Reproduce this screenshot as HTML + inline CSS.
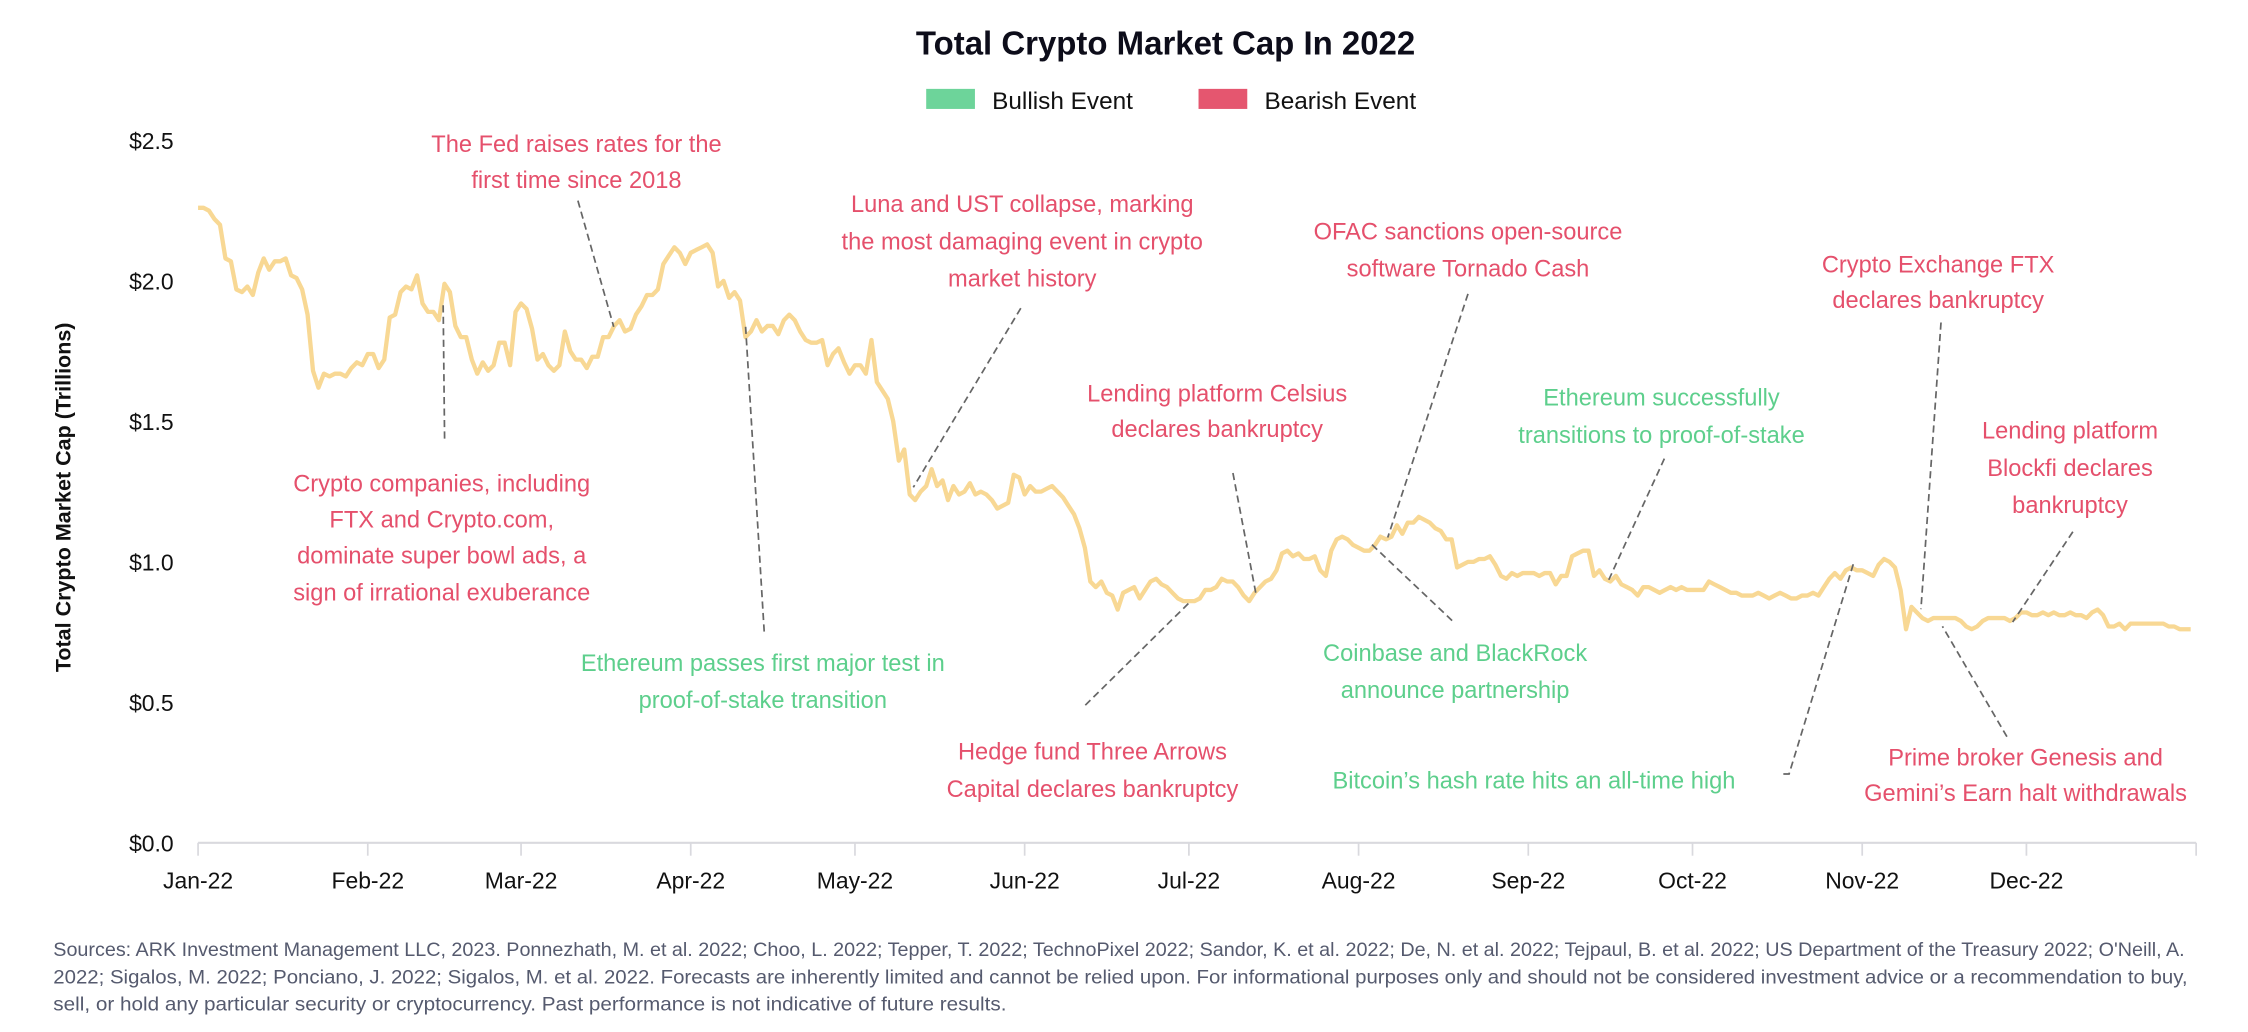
<!DOCTYPE html>
<html><head><meta charset="utf-8"><style>
html,body{margin:0;padding:0;background:#fff;}
svg{display:block;font-family:"Liberation Sans",sans-serif;}
.r{fill:#E5506C;font-size:16.5px;text-anchor:middle;}
.g{fill:#5DCF8C;font-size:16.5px;text-anchor:middle;}
.d{stroke:#666;stroke-width:1.2;stroke-dasharray:5,3;fill:none;}
.yl{font-size:16px;fill:#111;text-anchor:end;}
.xl{font-size:16px;fill:#111;text-anchor:middle;}
.ft{font-size:13.3px;fill:#555a6e;}
</style></head><body>
<svg width="2248" height="1032" viewBox="0 0 1568 720" xmlns="http://www.w3.org/2000/svg">
<text x="813" y="38" text-anchor="middle" font-size="23" font-weight="bold" fill="#0d0d1a">Total Crypto Market Cap In 2022</text>
<rect x="646" y="62" width="34" height="14" fill="#6DD49A"/>
<text x="692" y="76" font-size="17" fill="#111">Bullish Event</text>
<rect x="836" y="62" width="34" height="14" fill="#E5566F"/>
<text x="882" y="76" font-size="17" fill="#111">Bearish Event</text>

<text class="yl" x="121" y="104">$2.5</text>
<text class="yl" x="121" y="202">$2.0</text>
<text class="yl" x="121" y="300">$1.5</text>
<text class="yl" x="121" y="398">$1.0</text>
<text class="yl" x="121" y="496">$0.5</text>
<text class="yl" x="121" y="594">$0.0</text>
<text transform="translate(49,347) rotate(-90)" text-anchor="middle" font-size="15" font-weight="bold" fill="#111">Total Crypto Market Cap (Trillions)</text>

<line x1="138" y1="588" x2="1532" y2="588" stroke="#d9d9de" stroke-width="1.5"/>
<g id="ticks" stroke="#d9d9de" stroke-width="1.2"></g>
<g id="xl"></g>

<path id="series" fill="none" stroke="#F8D894" stroke-width="3" stroke-linejoin="round"/>

<!-- annotations -->
<text class="r" x="402" y="106">The Fed raises rates for the</text>
<text class="r" x="402" y="131">first time since 2018</text>
<path class="d" d="M403 140 L428 228"/>

<text class="r" x="308" y="343">Crypto companies, including</text>
<text class="r" x="308" y="368">FTX and Crypto.com,</text>
<text class="r" x="308" y="393">dominate super bowl ads, a</text>
<text class="r" x="308" y="419">sign of irrational exuberance</text>
<path class="d" d="M309 213 L310 307"/>

<text class="r" x="713" y="148">Luna and UST collapse, marking</text>
<text class="r" x="713" y="174">the most damaging event in crypto</text>
<text class="r" x="713" y="200">market history</text>
<path class="d" d="M712 215 L637 340"/>

<text class="g" x="532" y="468">Ethereum passes first major test in</text>
<text class="g" x="532" y="494">proof-of-stake transition</text>
<path class="d" d="M520 228 L533 441"/>

<text class="r" x="762" y="530">Hedge fund Three Arrows</text>
<text class="r" x="762" y="556">Capital declares bankruptcy</text>
<path class="d" d="M757 492 L830 420"/>

<text class="r" x="849" y="280">Lending platform Celsius</text>
<text class="r" x="849" y="305">declares bankruptcy</text>
<path class="d" d="M860 330 L876 414"/>

<text class="r" x="1024" y="167">OFAC sanctions open-source</text>
<text class="r" x="1024" y="193">software Tornado Cash</text>
<path class="d" d="M1024 205 L968 375"/>

<text class="g" x="1015" y="461">Coinbase and BlackRock</text>
<text class="g" x="1015" y="487">announce partnership</text>
<path class="d" d="M957 380 L1014 434"/>

<text class="g" x="1159" y="283">Ethereum successfully</text>
<text class="g" x="1159" y="309">transitions to proof-of-stake</text>
<path class="d" d="M1161 320 L1122 405"/>

<text class="r" x="1352" y="190">Crypto Exchange FTX</text>
<text class="r" x="1352" y="215">declares bankruptcy</text>
<path class="d" d="M1354 225 L1340 425"/>

<text class="r" x="1444" y="306">Lending platform</text>
<text class="r" x="1444" y="332">Blockfi declares</text>
<text class="r" x="1444" y="358">bankruptcy</text>
<path class="d" d="M1446 371 L1404 434"/>

<text class="g" x="1070" y="550">Bitcoin’s hash rate hits an all-time high</text>
<path class="d" d="M1244 540 L1248 540 L1293 393"/>

<text class="r" x="1413" y="534">Prime broker Genesis and</text>
<text class="r" x="1413" y="559">Gemini’s Earn halt withdrawals</text>
<path class="d" d="M1400 514 L1355 437"/>

<text class="ft" x="37" y="667" textLength="1487" lengthAdjust="spacingAndGlyphs">Sources: ARK Investment Management LLC, 2023. Ponnezhath, M. et al. 2022; Choo, L. 2022; Tepper, T. 2022; TechnoPixel 2022; Sandor, K. et al. 2022; De, N. et al. 2022; Tejpaul, B. et al. 2022; US Department of the Treasury 2022; O'Neill, A.</text>
<text class="ft" x="37" y="686" textLength="1489" lengthAdjust="spacingAndGlyphs">2022; Sigalos, M. 2022; Ponciano, J. 2022; Sigalos, M. et al. 2022. Forecasts are inherently limited and cannot be relied upon. For informational purposes only and should not be considered investment advice or a recommendation to buy,</text>
<text class="ft" x="37" y="705" textLength="665" lengthAdjust="spacingAndGlyphs">sell, or hold any particular security or cryptocurrency. Past performance is not indicative of future results.</text>
</svg>
<script>
var NS="http://www.w3.org/2000/svg";
function X(d){return 138+d*1394/365;}
function Y(v){return 588-v*196;}
var months=[["Jan-22",0],["Feb-22",31],["Mar-22",59],["Apr-22",90],["May-22",120],["Jun-22",151],["Jul-22",181],["Aug-22",212],["Sep-22",243],["Oct-22",273],["Nov-22",304],["Dec-22",334]];
var tg=document.getElementById("ticks"),xg=document.getElementById("xl");
months.concat([["",365]]).forEach(function(m){
 var l=document.createElementNS(NS,"line");l.setAttribute("x1",X(m[1]));l.setAttribute("x2",X(m[1]));l.setAttribute("y1",588);l.setAttribute("y2",597);tg.appendChild(l);
 if(m[0]){var t=document.createElementNS(NS,"text");t.setAttribute("class","xl");t.setAttribute("x",X(m[1]));t.setAttribute("y",620);t.textContent=m[0];xg.appendChild(t);}
});
var v=[2.26,2.26,2.25,2.22,2.20,2.08,2.07,1.97,1.96,1.98,1.95,2.03,2.08,2.04,2.07,2.07,2.08,2.02,2.01,1.97,1.88,1.68,1.62,1.67,1.66,1.67,1.67,1.66,1.69,1.71,1.70,
1.74,1.74,1.69,1.72,1.87,1.88,1.96,1.98,1.97,2.02,1.92,1.89,1.89,1.86,1.99,1.96,1.84,1.80,1.80,1.72,1.67,1.71,1.68,1.70,1.78,1.78,1.70,1.89,
1.92,1.90,1.83,1.72,1.74,1.70,1.68,1.70,1.82,1.75,1.72,1.72,1.69,1.73,1.73,1.80,1.80,1.84,1.86,1.82,1.83,1.88,1.91,1.95,1.95,1.97,2.06,2.09,2.12,2.10,2.06,
2.10,2.11,2.12,2.13,2.10,1.98,2.00,1.94,1.96,1.93,1.80,1.82,1.86,1.82,1.84,1.84,1.81,1.86,1.88,1.86,1.82,1.79,1.78,1.78,1.79,1.70,1.74,1.76,1.71,1.67,
1.70,1.70,1.67,1.79,1.64,1.61,1.58,1.50,1.36,1.40,1.24,1.22,1.25,1.27,1.33,1.27,1.29,1.22,1.27,1.24,1.25,1.28,1.24,1.25,1.24,1.22,1.19,1.20,1.21,1.31,1.30,
1.24,1.27,1.25,1.25,1.26,1.27,1.25,1.23,1.20,1.17,1.12,1.05,0.93,0.91,0.93,0.89,0.88,0.83,0.89,0.90,0.91,0.87,0.90,0.93,0.94,0.92,0.91,0.89,0.87,0.86,
0.86,0.86,0.87,0.90,0.90,0.91,0.94,0.93,0.93,0.91,0.88,0.86,0.89,0.91,0.93,0.94,0.97,1.03,1.04,1.02,1.03,1.01,1.01,1.02,0.97,0.95,1.04,1.08,1.09,1.08,1.06,
1.05,1.04,1.04,1.06,1.09,1.08,1.09,1.13,1.10,1.14,1.14,1.16,1.15,1.14,1.12,1.11,1.08,1.08,0.98,0.99,1.00,1.00,1.01,1.01,1.02,0.99,0.95,0.94,0.96,0.95,0.96,
0.96,0.96,0.95,0.96,0.96,0.92,0.95,0.95,1.02,1.03,1.04,1.04,0.95,0.97,0.94,0.93,0.95,0.92,0.91,0.90,0.88,0.91,0.91,0.90,0.89,0.90,0.91,0.90,0.91,0.90,
0.90,0.90,0.90,0.93,0.92,0.91,0.90,0.89,0.89,0.88,0.88,0.88,0.89,0.88,0.87,0.88,0.89,0.88,0.87,0.87,0.88,0.88,0.89,0.88,0.91,0.94,0.96,0.94,0.97,0.98,0.97,
0.97,0.96,0.95,0.99,1.01,1.00,0.98,0.90,0.76,0.84,0.82,0.80,0.79,0.80,0.80,0.80,0.80,0.80,0.79,0.77,0.76,0.77,0.79,0.80,0.80,0.80,0.80,0.79,0.80,0.82,
0.82,0.81,0.81,0.82,0.81,0.82,0.81,0.81,0.82,0.81,0.81,0.80,0.82,0.83,0.81,0.77,0.77,0.78,0.76,0.78,0.78,0.78,0.78,0.78,0.78,0.78,0.77,0.77,0.76,0.76,0.76];
var d="";for(var i=0;i<v.length;i++){d+=(i?"L":"M")+X(i*364/(v.length-1)).toFixed(1)+" "+Y(v[i]).toFixed(1);}
document.getElementById("series").setAttribute("d",d);
</script>
</body></html>
